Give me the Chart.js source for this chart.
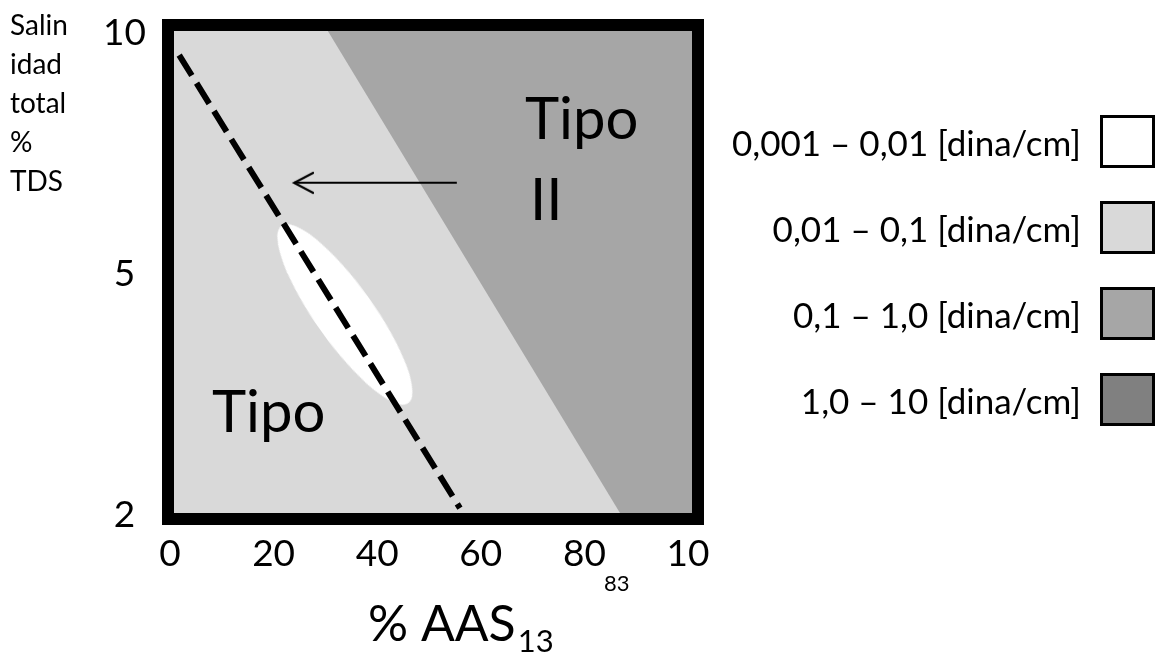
<!DOCTYPE html>
<html><head><meta charset="utf-8">
<script src="https://cdn.jsdelivr.net/npm/chart.js@4.4.1/dist/chart.umd.min.js"></script>
<style>html,body{margin:0;padding:0;background:#fff;}canvas{display:block;}</style>
</head><body>
<canvas id="c" width="1162" height="656"></canvas>
<script>
// ---- data ----
const xTickValues = [0, 20, 40, 60, 80, 100];
const xTickLabels = ['0', '20', '40', '60', '80', '10'];
const yTickValues = [0, 5, 10];
const yTickLabels = ['2', '5', '10'];
const yTitleLines = ['Salin', 'idad', 'total', '%', 'TDS'];
const xTitleMain = '% AAS';
const xTitleSub = '13';
const xTitleRef = '83';
const legendLabels = ['0,001 – 0,01 [dina/cm]', '0,01 – 0,1 [dina/cm]', '0,1 – 1,0 [dina/cm]', '1,0 – 10 [dina/cm]'];
const legendColors = ['#ffffff', '#d9d9d9', '#a6a6a6', '#808080'];
const typeLabels = ['Tipo', 'II', 'Tipo'];
// region boundaries (x: % AAS, y: salinity axis units)
const zoneLowX = [0, 100];
const zoneLowY = [0, 0];
const zoneHighX = [29.7, 86.1, 100];
const zoneHighY = [10, 0, 0];
const ultraLowX = [33.0];
const ultraLowY = [4.12];
const optimalX = [1.0, 55.2];
const optimalY = [9.5, 0.1];
const arrowX = [54.6, 23.2];
const arrowY = [6.85, 6.85];

const FONT = 'Lato, "Open Sans", sans-serif';
const pts = (xs, ys) => xs.map((x, i) => ({x: x, y: ys[i]}));

function makeEllipse(a, b) {
  const c = document.createElement('canvas');
  c.width = 2 * a; c.height = 2 * b;
  const g = c.getContext('2d');
  g.fillStyle = '#ffffff';
  g.beginPath(); g.ellipse(a, b, a, b, 0, 0, Math.PI * 2); g.fill();
  return c;
}
function makeArrowHead() {
  const c = document.createElement('canvas');
  c.width = 40; c.height = 24;
  const g = c.getContext('2d');
  g.strokeStyle = '#000'; g.lineWidth = 2.2; g.lineCap = 'round'; g.lineJoin = 'miter';
  g.beginPath(); g.moveTo(39, 2); g.lineTo(20, 12); g.lineTo(39, 22); g.stroke();
  return c;
}

const decor = {
  id: 'decor',
  afterDraw(chart) {
    const {ctx, chartArea: a} = chart;
    ctx.save();
    // frame
    ctx.strokeStyle = '#000'; ctx.lineWidth = 12; ctx.lineJoin = 'miter';
    ctx.strokeRect(a.left - 6, a.top - 6, a.right - a.left + 12, a.bottom - a.top + 12);
    // type labels
    ctx.fillStyle = '#000'; ctx.textAlign = 'left'; ctx.textBaseline = 'alphabetic';
    ctx.font = '58px ' + FONT;
    ctx.fillText(typeLabels[0], 525, 139);
    ctx.fillText(typeLabels[1], 530, 220);
    ctx.fillText(typeLabels[2], 212, 432);
    // y title
    ctx.font = '28px ' + FONT;
    yTitleLines.forEach((t, i) => ctx.fillText(t, 10, 35 + i * 39));
    // x title
    ctx.font = '50px ' + FONT;
    ctx.fillText(xTitleMain, 368, 641);
    const w = ctx.measureText(xTitleMain).width;
    ctx.font = '31px ' + FONT;
    ctx.fillText(xTitleSub, 368 + w + 2, 652);
    ctx.font = '22px ' + FONT;
    ctx.fillText(xTitleRef, 604, 591);
    // legend
    const boxTops = [115, 201, 287, 373];
    ctx.font = '35px ' + FONT;
    ctx.textAlign = 'right'; ctx.textBaseline = 'middle';
    legendLabels.forEach((t, i) => {
      const top = boxTops[i];
      ctx.fillStyle = legendColors[i];
      ctx.fillRect(1100, top, 55, 53);
      ctx.strokeStyle = '#000'; ctx.lineWidth = 3;
      ctx.strokeRect(1101.5, top + 1.5, 52, 50);
      ctx.fillStyle = '#000';
      ctx.fillText(t, 1081, top + 30);
    });
    ctx.restore();
  }
};

const chart = new Chart(document.getElementById('c'), {
  type: 'scatter',
  data: {
    datasets: [
      { label: legendLabels[1], data: pts(zoneLowX, zoneLowY), showLine: true, fill: 'end',
        backgroundColor: legendColors[1], borderWidth: 0, pointRadius: 0, order: 6 },
      { label: legendLabels[2], data: pts(zoneHighX, zoneHighY), showLine: true, fill: 'end',
        backgroundColor: legendColors[2], borderWidth: 0, pointRadius: 0, order: 5 },
      { label: legendLabels[0], data: pts(ultraLowX, ultraLowY), showLine: false,
        pointStyle: makeEllipse(109, 29), pointRotation: 54.5, pointRadius: 30, order: 4 },
      { label: 'optimal', data: pts(optimalX, optimalY), showLine: true, borderColor: '#000',
        borderWidth: 6, borderDash: [24, 9], borderCapStyle: 'butt', pointRadius: 0, fill: false, order: 3 },
      { label: 'arrow', data: pts(arrowX, arrowY), showLine: true, borderColor: '#000',
        borderWidth: 2, pointRadius: [0, 10], pointStyle: ['circle', makeArrowHead()], fill: false, order: 2 }
    ]
  },
  options: {
    responsive: false, animation: false, devicePixelRatio: 1,
    layout: { padding: { left: 0, top: 25, right: 470, bottom: 0 } },
    plugins: { legend: { display: false }, tooltip: { enabled: false } },
    scales: {
      x: {
        type: 'linear', min: 0, max: 100, position: 'bottom',
        grid: { display: false, drawTicks: false }, border: { display: false },
        afterBuildTicks: s => { s.ticks = xTickValues.map(v => ({value: v})); },
        afterFit: s => { s.height = 143; },
        ticks: { autoSkip: false, maxRotation: 0, minRotation: 0, padding: 19, labelOffset: -4,
          color: '#000', font: { family: FONT, size: 37 },
          callback: (v, i) => xTickLabels[i] }
      },
      y: {
        type: 'linear', min: 0, max: 10, position: 'left',
        grid: { display: false, drawTicks: false }, border: { display: false },
        afterBuildTicks: s => { s.ticks = yTickValues.map(v => ({value: v})); },
        afterFit: s => { s.width = 174; s.paddingTop = 0; s.paddingBottom = 0; },
        ticks: { autoSkip: false, padding: 28, crossAlign: 'center', labelOffset: 2,
          color: '#000', font: { family: FONT, size: 37 },
          callback: (v, i) => yTickLabels[i] }
      }
    }
  },
  plugins: [decor]
});
</script>
</body></html>
